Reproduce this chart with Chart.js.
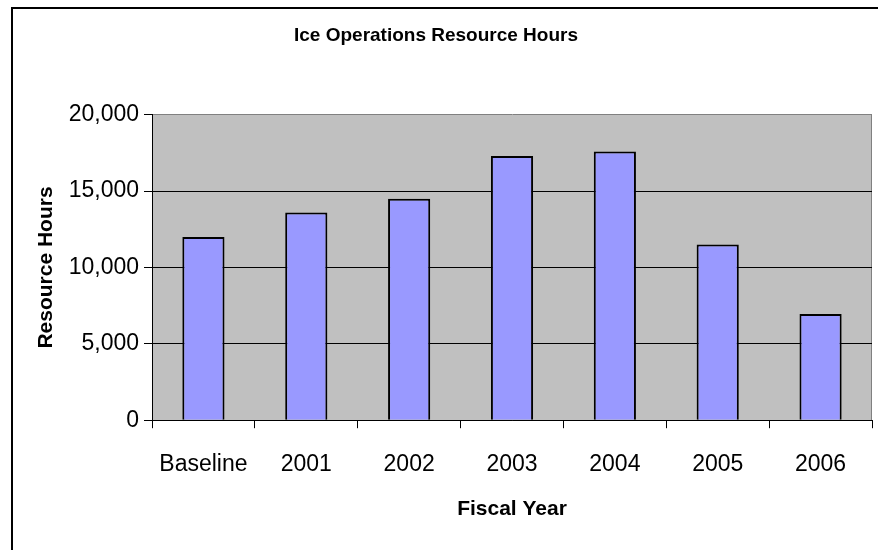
<!DOCTYPE html>
<html>
<head>
<meta charset="utf-8">
<script src="https://cdn.jsdelivr.net/npm/chart.js@4"></script>
<style>
    html, body { margin: 0; padding: 0; background: #fff; overflow: hidden; }
    #wrap { position: relative; width: 878px; height: 550px; }
    #frame { position: absolute; left: 11px; top: 7px; width: 2000px; height: 2000px;
             border-top: 2px solid #000; border-left: 2px solid #000; pointer-events: none; }
</style>
</head>
<body>
<div id="wrap">
    <canvas id="hoursChart" width="878" height="550"></canvas>
    <div id="frame"></div>
</div>
<script>
// Chart data
const fiscalYears = ['Baseline', '2001', '2002', '2003', '2004', '2005', '2006'];
const resourceHours = [12000, 13600, 14500, 17300, 17600, 11500, 6950];
const yTicks = [0, 5000, 10000, 15000, 20000];

const fontFamily = '"Liberation Sans", Arial, sans-serif';

// Gray plot area with a thin gray border on the right
const plotBackground = {
    id: 'plotBackground',
    beforeDraw(chart) {
        const { ctx, chartArea: a } = chart;
        ctx.save();
        ctx.fillStyle = '#C0C0C0';
        ctx.fillRect(a.left, a.top, a.right - a.left, a.bottom - a.top);
        ctx.strokeStyle = '#808080';
        ctx.lineWidth = 1;
        ctx.beginPath();
        ctx.moveTo(a.right - 0.5, a.top);
        ctx.lineTo(a.right - 0.5, a.bottom);
        ctx.stroke();
        ctx.restore();
    }
};

const ctx = document.getElementById('hoursChart').getContext('2d');
new Chart(ctx, {
    type: 'bar',
    data: {
        labels: fiscalYears,
        datasets: [{
            label: 'Resource Hours',
            data: resourceHours,
            backgroundColor: '#9999FF',
            borderColor: '#000000',
            borderWidth: 2,
            categoryPercentage: 1,
            barPercentage: 0.41
        }]
    },
    options: {
        responsive: false,
        animation: false,
        layout: { padding: { left: 0, right: 6, top: 0, bottom: 0 } },
        plugins: {
            legend: { display: false },
            tooltip: { enabled: false },
            title: {
                display: true,
                text: 'Ice Operations Resource Hours',
                color: '#000',
                font: { family: fontFamily, size: 19, weight: 'bold' },
                padding: { top: 24, bottom: 68 }
            }
        },
        scales: {
            x: {
                grid: {
                    offset: true,
                    drawOnChartArea: false,
                    drawTicks: true,
                    tickLength: 8,
                    tickColor: '#000'
                },
                border: { display: true, color: '#000', width: 1 },
                ticks: {
                    color: '#000',
                    font: { family: fontFamily, size: 23, lineHeight: 1 },
                    padding: 25,
                    maxRotation: 0
                },
                title: {
                    display: true,
                    text: 'Fiscal Year',
                    color: '#000',
                    font: { family: fontFamily, size: 21, weight: 'bold', lineHeight: 0.8 },
                    padding: { top: 0, bottom: 32 }
                }
            },
            y: {
                min: 0,
                max: 20000,
                afterBuildTicks(scale) {
                    scale.ticks = yTicks.map(v => ({ value: v }));
                },
                afterFit(scale) {
                    scale.width = 152;
                },
                grid: {
                    color: c => (c.index === yTicks.length - 1 ? '#808080' : '#000'),
                    tickColor: '#000',
                    tickLength: 8,
                    lineWidth: 1
                },
                border: { display: true, color: '#000', width: 1 },
                ticks: {
                    color: '#000',
                    font: { family: fontFamily, size: 23 },
                    padding: 5,
                    callback: v => v.toLocaleString('en-US')
                },
                title: {
                    display: true,
                    text: 'Resource Hours',
                    color: '#000',
                    font: { family: fontFamily, size: 21, weight: 'bold' },
                    padding: { top: 34, bottom: 7 }
                }
            }
        }
    },
    plugins: [plotBackground]
});
</script>
</body>
</html>
